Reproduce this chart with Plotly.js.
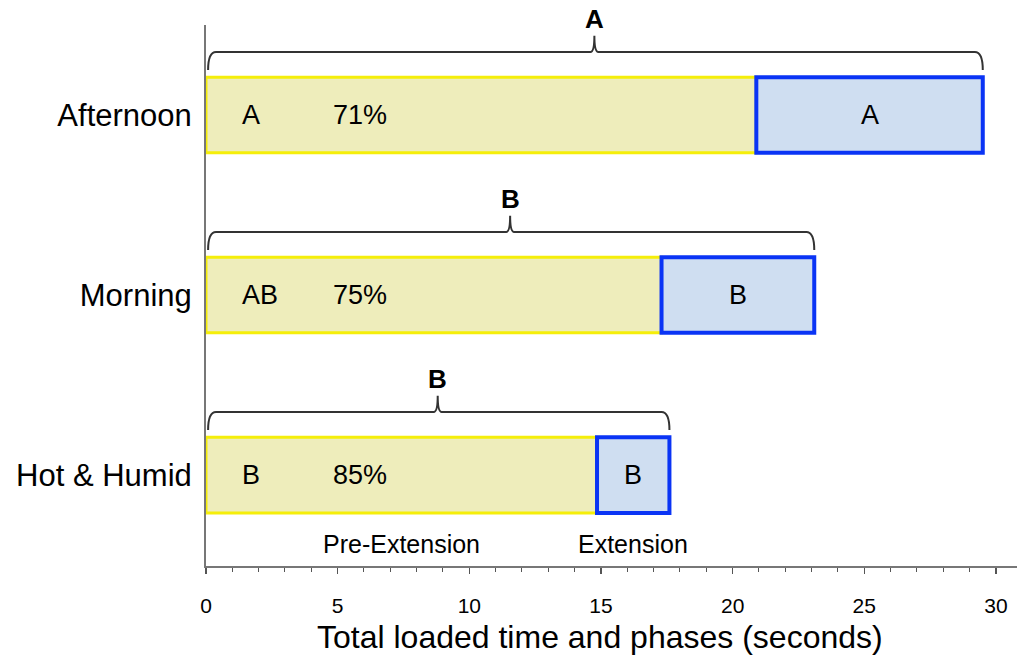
<!DOCTYPE html>
<html>
<head>
<meta charset="utf-8">
<script src="https://cdn.plot.ly/plotly-3.0.1.min.js"></script>
<style>html,body{margin:0;padding:0;background:#fff}#chart{width:1020px;height:658px}</style>
</head>
<body>
<div id="chart"></div>
<script>
// ---- data ----
const categories = ["Hot & Humid", "Morning", "Afternoon"];
const preExtension = [14.85, 17.3, 20.9];
const extension = [2.75, 5.8, 8.6];
const preLetters = ["B", "AB", "A"];
const extLetters = ["B", "B", "A"];
const percentLabels = ["85%", "75%", "71%"];
const totalLetters = ["B", "B", "A"];
const xTickVals = [0, 5, 10, 15, 20, 25, 30];
const segmentNames = ["Pre-Extension", "Extension"];
const xTitle = "Total loaded time and phases (seconds)";

// ---- derived ----
const yPos = categories.map((c, i) => i);
const totals = preExtension.map((p, i) => p + extension[i]);

const font = "Liberation Sans, Arial, Helvetica, sans-serif";

const traces = [
  {
    type: "bar", orientation: "h", y: yPos, x: preExtension, base: 0,
    width: 0.42, name: segmentNames[0],
    marker: { color: "#eeedbb", line: { color: "#f5ee0a", width: 3 } },
    hoverinfo: "skip"
  },
  {
    type: "bar", orientation: "h", y: yPos, x: extension, base: preExtension,
    width: 0.42, name: segmentNames[1],
    marker: { color: "#cfdef1", line: { color: "#0a34f5", width: 4 } },
    hoverinfo: "skip"
  }
];

const annotations = [];
const shapes = [];
yPos.forEach((y, i) => {
  annotations.push({ x: 1.3, y: y, text: preLetters[i], showarrow: false, xanchor: "left",
    font: { family: font, size: 27, color: "#000" } });
  annotations.push({ x: 4.75, y: y, text: percentLabels[i], showarrow: false, xanchor: "left",
    font: { family: font, size: 27, color: "#000" } });
  annotations.push({ x: preExtension[i] + extension[i] / 2, y: y, text: extLetters[i], showarrow: false,
    font: { family: font, size: 27, color: "#000" } });
  // brace
  const x0 = 0.08, x1 = totals[i], mid = totals[i] / 2;
  const yEnd = y + 0.25, yLine = y + 0.35, yTip = y + 0.44;
  const dx = 0.3, dt = 0.15;
  const path = `M ${x0},${yEnd} Q ${x0},${yLine} ${x0 + dx},${yLine} L ${mid - dt},${yLine} ` +
    `Q ${mid},${yLine} ${mid},${yTip} Q ${mid},${yLine} ${mid + dt},${yLine} ` +
    `L ${x1 - dx},${yLine} Q ${x1},${yLine} ${x1},${yEnd}`;
  shapes.push({ type: "path", xref: "x", yref: "y", path: path,
    line: { color: "#333", width: 2 } });
  annotations.push({ x: mid, y: yTip, yanchor: "bottom", yshift: 0, text: "<b>" + totalLetters[i] + "</b>",
    showarrow: false, font: { family: font, size: 26, color: "#000" } });
});
// segment names under the lowest bar
annotations.push({ x: preExtension[0] / 2, y: yPos[0] - 0.38, text: segmentNames[0], showarrow: false,
  font: { family: font, size: 25, color: "#000" } });
annotations.push({ x: preExtension[0] + extension[0] / 2, y: yPos[0] - 0.38, text: segmentNames[1], showarrow: false,
  font: { family: font, size: 25, color: "#000" } });
// axis title
annotations.push({ xref: "paper", yref: "paper", x: 0.486, y: -0.131, yanchor: "middle", xanchor: "center",
  text: xTitle, showarrow: false, font: { family: font, size: 32, color: "#000" } });

const layout = {
  width: 1020, height: 658,
  margin: { l: 206, r: 3, t: 25, b: 92 },
  paper_bgcolor: "#fff", plot_bgcolor: "#fff",
  barmode: "overlay",
  showlegend: false,
  xaxis: {
    range: [0, 30.8], tickvals: xTickVals, ticks: "outside", ticklen: 6, tickwidth: 1.5,
    tickcolor: "#555", showline: true, linecolor: "#777", linewidth: 2, showgrid: false, zeroline: false,
    minor: { dtick: 1, ticks: "outside", ticklen: 4, tickcolor: "#555", tickwidth: 1, showgrid: false },
    tickfont: { family: font, size: 21, color: "#000" }, ticklabelstandoff: 14
  },
  yaxis: {
    range: [-0.505, 2.5], tickvals: yPos, ticktext: categories, ticks: "", showline: true,
    linecolor: "#777", linewidth: 2, showgrid: false, zeroline: false,
    tickfont: { family: font, size: 31, color: "#000" }, ticklabelstandoff: 6
  },
  shapes: shapes,
  annotations: annotations
};

Plotly.newPlot("chart", traces, layout, { staticPlot: true });
</script>
</body>
</html>
